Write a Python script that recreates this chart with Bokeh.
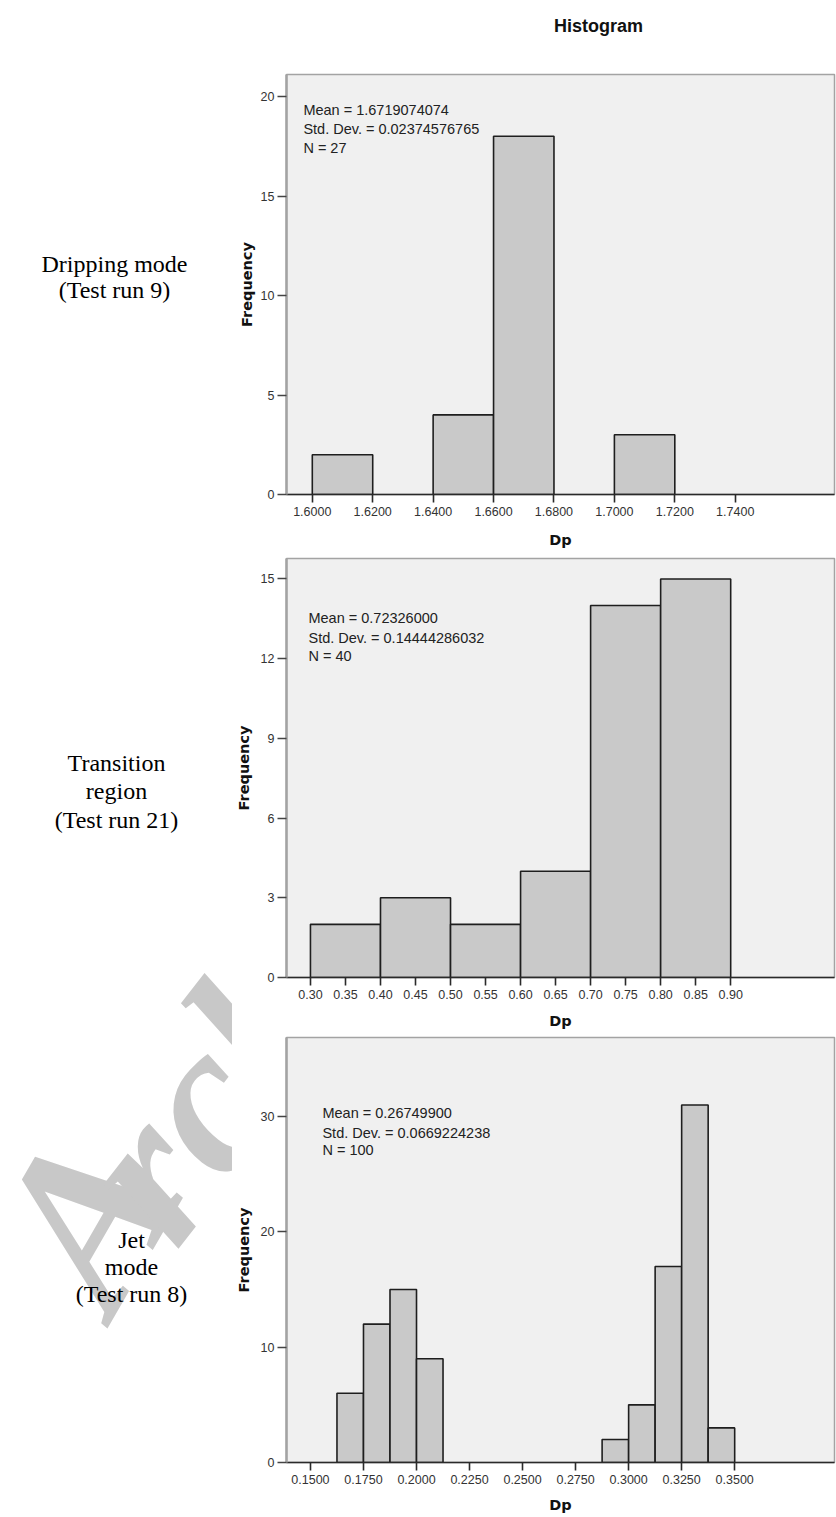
from bokeh.plotting import figure
from bokeh.layouts import row, column
from bokeh.models import Range1d, FixedTicker, Label
from bokeh.embed import file_html
from bokeh.resources import INLINE

# ---------------- data ----------------
drip_bin_left = [1.60, 1.64, 1.66, 1.70]
drip_bin_right = [1.62, 1.66, 1.68, 1.72]
drip_counts = [2, 4, 18, 3]
drip_x_ticks = [1.60, 1.62, 1.64, 1.66, 1.68, 1.70, 1.72, 1.74]
drip_x_labels = ["1.6000", "1.6200", "1.6400", "1.6600", "1.6800", "1.7000", "1.7200", "1.7400"]
drip_y_ticks = [0, 5, 10, 15, 20]
drip_stats = ["Mean = 1.6719074074", "Std. Dev. = 0.02374576765", "N = 27"]

trans_bin_left = [0.30, 0.40, 0.50, 0.60, 0.70, 0.80]
trans_bin_right = [0.40, 0.50, 0.60, 0.70, 0.80, 0.90]
trans_counts = [2, 3, 2, 4, 14, 15]
trans_x_ticks = [0.30, 0.35, 0.40, 0.45, 0.50, 0.55, 0.60, 0.65, 0.70, 0.75, 0.80, 0.85, 0.90]
trans_x_labels = ["0.30", "0.35", "0.40", "0.45", "0.50", "0.55", "0.60", "0.65",
                  "0.70", "0.75", "0.80", "0.85", "0.90"]
trans_y_ticks = [0, 3, 6, 9, 12, 15]
trans_stats = ["Mean = 0.72326000", "Std. Dev. = 0.14444286032", "N = 40"]

jet_bin_left = [0.1625, 0.1750, 0.1875, 0.2000, 0.2875, 0.3000, 0.3125, 0.3250, 0.3375]
jet_bin_right = [0.1750, 0.1875, 0.2000, 0.2125, 0.3000, 0.3125, 0.3250, 0.3375, 0.3500]
jet_counts = [6, 12, 15, 9, 2, 5, 17, 31, 3]
jet_x_ticks = [0.150, 0.175, 0.200, 0.225, 0.250, 0.275, 0.300, 0.325, 0.350]
jet_x_labels = ["0.1500", "0.1750", "0.2000", "0.2250", "0.2500", "0.2750", "0.3000", "0.3250", "0.3500"]
jet_y_ticks = [0, 10, 20, 30]
jet_stats = ["Mean = 0.26749900", "Std. Dev. = 0.0669224238", "N = 100"]

row_labels = [["Dripping mode", "(Test run 9)"],
              ["Transition", "region", "(Test run 21)"],
              ["Jet", "mode", "(Test run 8)"]]
watermark_parts = ["A", "rch"]

SANS = "Liberation Sans"
WIDE = "DejaVu Sans"
SERIF = "Liberation Serif"

LEFT_W = 232
FIG_W = 604


def hist_fig(bl, br, counts, xr, y_end, xticks, xlabels, yticks, stats, sdx, sdy,
             height, b_top, b_bottom, b_left, ylab_standoff, xlab_standoff):
    p = figure(width=FIG_W, height=height, x_range=Range1d(*xr), y_range=Range1d(0, y_end),
               toolbar_location=None, output_backend="svg",
               min_border_left=b_left, min_border_right=2,
               min_border_top=b_top, min_border_bottom=b_bottom)
    p.background_fill_color = "#f0f0f0"
    p.border_fill_color = "white"
    p.outline_line_color = "#a3a3a3"
    p.outline_line_width = 1.5
    p.grid.visible = False

    p.quad(left=bl, right=br, top=counts, bottom=0,
           fill_color="#c9c9c9", line_color="#1e1e1e", line_width=1.6)

    xa = p.xaxis[0]
    xa.ticker = FixedTicker(ticks=xticks)
    xa.major_label_overrides = dict(zip(xticks, xlabels))
    xa.axis_line_color = "#2a2a2a"
    xa.axis_line_width = 1.6
    xa.major_tick_line_color = "#2a2a2a"
    xa.major_tick_line_width = 1.6
    xa.major_tick_out = 8
    xa.major_tick_in = 0
    xa.minor_tick_line_color = None
    xa.major_label_standoff = 4
    xa.major_label_text_font = SANS
    xa.major_label_text_font_size = "12.5px"
    xa.major_label_text_color = "#333333"
    xa.axis_label = "Dp"
    xa.axis_label_text_font = WIDE
    xa.axis_label_text_font_style = "bold"
    xa.axis_label_text_font_size = "14.5px"
    xa.axis_label_text_color = "#111111"
    xa.axis_label_standoff = xlab_standoff

    ya = p.yaxis[0]
    ya.ticker = FixedTicker(ticks=yticks)
    ya.axis_line_color = "#a3a3a3"
    ya.axis_line_width = 2.5
    ya.major_tick_line_color = "#444444"
    ya.major_tick_line_width = 1.5
    ya.major_tick_out = 9
    ya.major_tick_in = 0
    ya.minor_tick_line_color = None
    ya.major_label_standoff = 3
    ya.major_label_text_font = SANS
    ya.major_label_text_font_size = "12.5px"
    ya.major_label_text_color = "#333333"
    ya.axis_label = "Frequency"
    ya.axis_label_text_font = WIDE
    ya.axis_label_text_font_style = "bold"
    ya.axis_label_text_font_size = "14.5px"
    ya.axis_label_text_color = "#111111"
    ya.axis_label_standoff = ylab_standoff

    # statistics text, placed by pixel offset from the frame's top-left corner
    fw = FIG_W - b_left - 2
    fh = height - b_top - b_bottom
    for i, s in enumerate(stats):
        x = xr[0] + sdx / fw * (xr[1] - xr[0])
        y = y_end - sdy[i] / fh * y_end
        p.add_layout(Label(x=x, y=y, text=s, text_font=SANS, text_font_size="14.5px",
                           text_color="#222222", text_align="left", text_baseline="middle"))
    return p


f1 = hist_fig(drip_bin_left, drip_bin_right, drip_counts, (1.59146, 1.77286), 21.106,
              drip_x_ticks, drip_x_labels, drip_y_ticks, drip_stats, 17, [35, 54, 73],
              height=504, b_top=26, b_bottom=58, b_left=50, ylab_standoff=3, xlab_standoff=13)
f2 = hist_fig(trans_bin_left, trans_bin_right, trans_counts, (0.26580, 1.04822), 15.77,
              trans_x_ticks, trans_x_labels, trans_y_ticks, trans_stats, 22, [59, 79, 97],
              height=481, b_top=6, b_bottom=56, b_left=53, ylab_standoff=6, xlab_standoff=11)
f3 = hist_fig(jet_bin_left, jet_bin_right, jet_counts, (0.138706, 0.397059), 36.85,
              jet_x_ticks, jet_x_labels, jet_y_ticks, jet_stats, 36, [75, 95, 112],
              height=484, b_top=4, b_bottom=55, b_left=53, ylab_standoff=6, xlab_standoff=10)

# title strip
tf = figure(width=FIG_W, height=48, x_range=Range1d(0, FIG_W), y_range=Range1d(48, 0),
            toolbar_location=None, output_backend="svg",
            x_axis_location=None, y_axis_location=None, min_border=0)
tf.outline_line_color = None
tf.grid.visible = False
tf.add_layout(Label(x=344, y=25, text="Histogram", text_font=SANS, text_font_style="bold",
                    text_font_size="18px", text_color="#111111",
                    text_align="center", text_baseline="middle"))

# left strip: row captions and watermark
lf = figure(width=LEFT_W, height=1517, x_range=Range1d(0, LEFT_W), y_range=Range1d(1517, 0),
            toolbar_location=None, output_backend="svg",
            x_axis_location=None, y_axis_location=None, min_border=0)
lf.outline_line_color = None
lf.grid.visible = False
wm_style = dict(text_font=SERIF, text_font_style="bold italic", text_color="#c8c8c8",
                angle_units="deg", text_align="left", text_baseline="alphabetic")
lf.add_layout(Label(x=47, y=1280, text=watermark_parts[0], text_font_size="225px",
                    angle=60, **wm_style))
lf.add_layout(Label(x=118, y=1207, text=watermark_parts[1], text_font_size="215px",
                    angle=52, **wm_style))

caption_pos = [(114, [263, 289]), (116, [762, 790, 819]), (131, [1239, 1266, 1293])]
for lines, (cx, ys) in zip(row_labels, caption_pos):
    for t, yy in zip(lines, ys):
        lf.add_layout(Label(x=cx, y=yy, text=t, text_font=SERIF, text_font_size="24px",
                            text_color="#000000", text_align="center", text_baseline="middle"))

layout = row(lf, column(tf, f1, f2, f3))

open("out.html", "w").write(file_html(layout, INLINE))
